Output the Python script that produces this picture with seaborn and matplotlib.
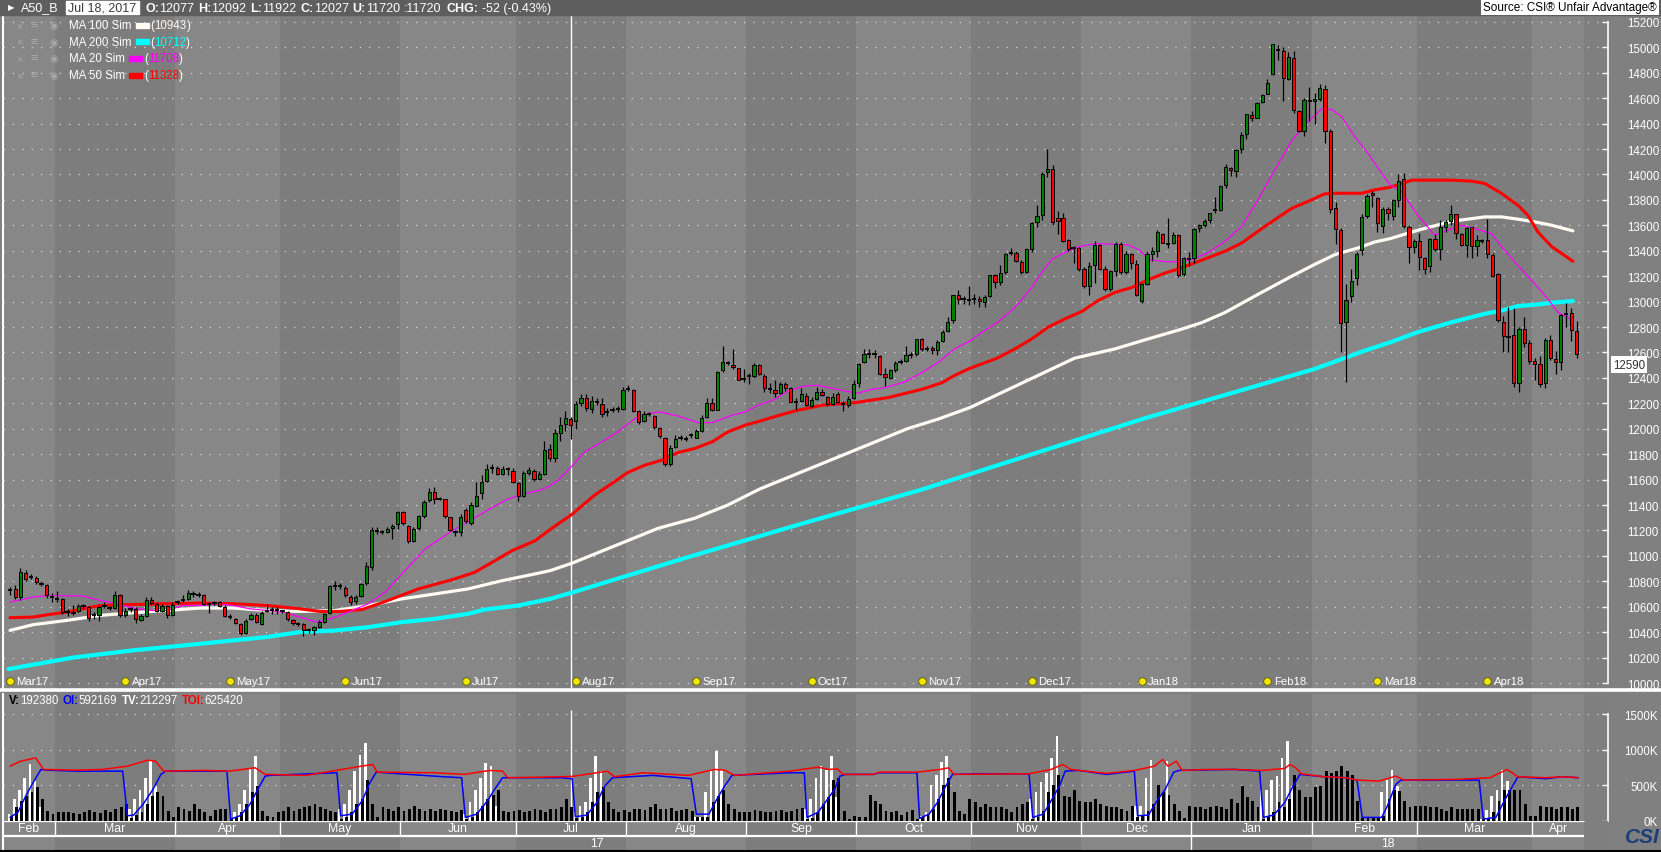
import numpy as np
import pandas as pd
import seaborn as sns
import matplotlib.pyplot as plt
from matplotlib.patches import Rectangle
from matplotlib.transforms import blended_transform_factory

sns.set_style("dark")
plt.rcParams["font.family"] = ["Liberation Sans", "DejaVu Sans"]

# daily bars of A50_B, one entry per trading day (Feb 2017 - Apr 2018)
opens = [
    10728, 10740, 10675, 10865, 10833, 10828, 10780, 10773, 10676, 10663,
    10663, 10558, 10550, 10570, 10605, 10597, 10532, 10532, 10602, 10590,
    10590, 10690, 10532, 10584, 10584, 10493, 10527, 10657, 10623, 10570,
    10602, 10537, 10636, 10655, 10663, 10702, 10694, 10689, 10623, 10631,
    10636, 10597, 10519, 10500, 10466, 10393, 10505, 10532, 10466, 10563,
    10571, 10571, 10563, 10558, 10492, 10466, 10461, 10414, 10414, 10440,
    10479, 10553, 10762, 10762, 10745, 10675, 10643, 10688, 10784, 10910,
    11197, 11184, 11190, 11216, 11247, 11349, 11237, 11119, 11216, 11310,
    11438, 11503, 11446, 11446, 11302, 11190, 11190, 11362, 11255, 11394,
    11493, 11590, 11694, 11694, 11647, 11686, 11668, 11577, 11472, 11655,
    11668, 11608, 11647, 11837, 11771, 11967, 12038, 12077, 12059, 12203,
    12245, 12153, 12211, 12195, 12132, 12145, 12158, 12155, 12310, 12307,
    12137, 12059, 12116, 12098, 12007, 11931, 11719, 11858, 11931, 11923,
    11949, 11928, 11983, 12093, 12203, 12150, 12464, 12516, 12503, 12477,
    12394, 12415, 12415, 12498, 12415, 12315, 12305, 12279, 12354, 12318,
    12213, 12219, 12258, 12179, 12232, 12292, 12253, 12198, 12271, 12192,
    12187, 12245, 12362, 12527, 12590, 12584, 12571, 12428, 12402, 12459,
    12527, 12532, 12579, 12584, 12707, 12629, 12637, 12618, 12689, 12767,
    12859, 13050, 13021, 13016, 13020, 13020, 12994, 13041, 13208, 13153,
    13229, 13386, 13386, 13315, 13229, 13412, 13627, 13681, 14021, 14044,
    13660, 13660, 13483, 13425, 13425, 13260, 13124, 13287, 13443, 13255,
    13097, 13242, 13456, 13229, 13373, 13294, 13007, 13137, 13378, 13394,
    13535, 13451, 13464, 13522, 13214, 13331, 13344, 13579, 13600, 13639,
    13717, 13722, 13913, 14048, 14030, 14197, 14317, 14471, 14447, 14570,
    14635, 14786, 14982, 14969, 14752, 14917, 14497, 14340, 14588, 14575,
    14596, 14674, 14340, 13735, 13566, 12843, 13044, 13187, 13404, 13675,
    13852, 13813, 13597, 13727, 13674, 13798, 13963, 13587, 13430, 13477,
    13343, 13280, 13495, 13411, 13587, 13635, 13685, 13535, 13443, 13587,
    13438, 13474, 13488, 13369, 13220, 12838, 12720, 12739, 12363, 12786,
    12676, 12531, 12510, 12358, 12699, 12549, 12523, 12904, 12912, 12767,
]
highs = [
    10755, 10770, 10904, 10890, 10855, 10845, 10800, 10780, 10710, 10720,
    10670, 10580, 10610, 10620, 10625, 10605, 10555, 10615, 10640, 10605,
    10725, 10700, 10590, 10600, 10595, 10540, 10680, 10680, 10640, 10620,
    10615, 10640, 10650, 10690, 10730, 10725, 10715, 10700, 10640, 10645,
    10645, 10610, 10540, 10510, 10470, 10500, 10550, 10550, 10565, 10620,
    10595, 10600, 10575, 10565, 10505, 10480, 10470, 10430, 10450, 10495,
    10550, 10770, 10800, 10790, 10760, 10690, 10690, 10790, 10950, 11230,
    11230, 11200, 11230, 11250, 11350, 11352, 11245, 11225, 11325, 11440,
    11530, 11540, 11460, 11450, 11305, 11200, 11330, 11380, 11420, 11580,
    11640, 11720, 11720, 11710, 11710, 11700, 11690, 11580, 11665, 11700,
    11680, 11665, 11900, 11880, 12000, 12090, 12140, 12092, 12220, 12270,
    12270, 12260, 12240, 12240, 12160, 12170, 12180, 12330, 12345, 12315,
    12150, 12140, 12130, 12110, 12010, 11935, 11870, 11950, 11950, 11945,
    11965, 12000, 12110, 12240, 12240, 12455, 12650, 12530, 12630, 12480,
    12470, 12440, 12520, 12510, 12430, 12360, 12380, 12370, 12365, 12325,
    12240, 12320, 12280, 12250, 12330, 12310, 12260, 12280, 12290, 12215,
    12260, 12380, 12520, 12630, 12630, 12620, 12580, 12480, 12470, 12530,
    12550, 12650, 12600, 12705, 12710, 12650, 12650, 12695, 12775, 12880,
    13050, 13090, 13040, 13120, 13060, 13040, 13050, 13210, 13215, 13290,
    13380, 13420, 13400, 13325, 13420, 13625, 13760, 14020, 14201, 14078,
    13710, 13700, 13490, 13440, 13430, 13270, 13310, 13480, 13450, 13280,
    13250, 13470, 13470, 13400, 13380, 13330, 13145, 13400, 13430, 13560,
    13540, 13660, 13545, 13530, 13350, 13390, 13580, 13610, 13650, 13700,
    13820, 13920, 14080, 14060, 14200, 14330, 14475, 14500, 14570, 14630,
    14750, 15026, 15020, 15000, 14960, 14970, 14510, 14600, 14690, 14640,
    14710, 14705, 14360, 13780, 13580, 13140, 13260, 13390, 13690, 13850,
    13870, 13820, 13740, 13740, 13810, 14000, 14010, 13600, 13490, 13540,
    13350, 13500, 13530, 13640, 13640, 13760, 13690, 13540, 13590, 13590,
    13520, 13490, 13650, 13380, 13225, 12890, 12960, 12950, 12800, 12880,
    12700, 12560, 12570, 12710, 12740, 12610, 12900, 12990, 12950, 12850,
]
lows = [
    10695, 10660, 10650, 10800, 10815, 10780, 10760, 10670, 10640, 10640,
    10545, 10530, 10535, 10560, 10585, 10490, 10500, 10490, 10590, 10575,
    10585, 10520, 10520, 10560, 10470, 10485, 10520, 10615, 10555, 10560,
    10515, 10530, 10620, 10640, 10655, 10680, 10680, 10615, 10550, 10615,
    10600, 10520, 10500, 10465, 10380, 10385, 10495, 10470, 10460, 10555,
    10545, 10540, 10550, 10490, 10460, 10450, 10370, 10390, 10375, 10430,
    10470, 10545, 10730, 10740, 10680, 10610, 10620, 10680, 10770, 10890,
    11170, 11170, 11180, 11130, 11215, 11240, 11100, 11110, 11205, 11300,
    11420, 11410, 11440, 11295, 11195, 11160, 11160, 11260, 11245, 11385,
    11450, 11585, 11650, 11640, 11640, 11640, 11570, 11430, 11460, 11640,
    11590, 11600, 11640, 11750, 11740, 11900, 11980, 11922, 12000, 12180,
    12140, 12120, 12185, 12090, 12100, 12130, 12130, 12150, 12295, 12130,
    12040, 12050, 12100, 12000, 11930, 11705, 11705, 11850, 11915, 11905,
    11930, 11925, 11978, 12085, 12140, 12145, 12450, 12500, 12470, 12380,
    12370, 12350, 12400, 12420, 12290, 12280, 12250, 12270, 12300, 12200,
    12150, 12210, 12180, 12170, 12225, 12255, 12180, 12190, 12200, 12140,
    12170, 12230, 12330, 12520, 12560, 12560, 12420, 12340, 12395, 12450,
    12510, 12525, 12560, 12575, 12615, 12610, 12590, 12580, 12680, 12760,
    12830, 12980, 12980, 12970, 12980, 12960, 12960, 13035, 13110, 13130,
    13220, 13370, 13315, 13220, 13225, 13390, 13590, 13640, 13980, 13600,
    13530, 13470, 13400, 13300, 13240, 13110, 13050, 13150, 13250, 13080,
    13080, 13200, 13220, 13220, 13260, 13040, 12990, 13130, 13320, 13350,
    13460, 13420, 13450, 13190, 13200, 13280, 13300, 13550, 13590, 13620,
    13700, 13715, 13890, 13990, 13980, 14170, 14280, 14420, 14440, 14560,
    14630, 14780, 14900, 14580, 14740, 14480, 14330, 14300, 14420, 14400,
    14580, 14250, 13700, 13450, 12600, 12370, 13000, 13130, 13370, 13660,
    13740, 13550, 13540, 13640, 13640, 13740, 13580, 13300, 13380, 13250,
    13220, 13230, 13400, 13330, 13550, 13600, 13490, 13440, 13350, 13340,
    13360, 13460, 13340, 13190, 12840, 12600, 12600, 12330, 12290, 12640,
    12510, 12380, 12330, 12320, 12540, 12430, 12460, 12800, 12690, 12560,
]
closes = [
    10728, 10680, 10870, 10815, 10833, 10794, 10780, 10690, 10676, 10663,
    10558, 10558, 10560, 10605, 10605, 10511, 10532, 10597, 10602, 10590,
    10690, 10532, 10570, 10584, 10505, 10524, 10657, 10628, 10570, 10605,
    10537, 10615, 10636, 10655, 10707, 10702, 10694, 10623, 10623, 10631,
    10605, 10527, 10519, 10474, 10393, 10485, 10537, 10479, 10550, 10563,
    10571, 10571, 10563, 10505, 10474, 10466, 10414, 10414, 10437, 10479,
    10540, 10762, 10762, 10762, 10693, 10636, 10675, 10779, 10923, 11203,
    11197, 11184, 11211, 11237, 11349, 11258, 11119, 11211, 11310, 11420,
    11503, 11451, 11446, 11310, 11203, 11190, 11302, 11273, 11399, 11472,
    11584, 11686, 11694, 11647, 11686, 11686, 11584, 11472, 11650, 11676,
    11608, 11642, 11835, 11771, 11967, 12033, 12085, 12027, 12197, 12245,
    12164, 12218, 12211, 12116, 12132, 12145, 12158, 12307, 12310, 12140,
    12054, 12116, 12116, 12015, 11944, 11719, 11852, 11923, 11931, 11923,
    11949, 11983, 12088, 12203, 12150, 12446, 12524, 12516, 12485, 12386,
    12394, 12415, 12498, 12433, 12323, 12315, 12279, 12354, 12318, 12213,
    12213, 12276, 12187, 12226, 12292, 12266, 12198, 12253, 12213, 12192,
    12232, 12355, 12506, 12590, 12590, 12584, 12433, 12410, 12459, 12519,
    12527, 12577, 12579, 12702, 12629, 12629, 12618, 12684, 12762, 12841,
    13050, 13021, 13021, 13016, 13020, 13002, 13033, 13208, 13156, 13224,
    13378, 13386, 13320, 13229, 13412, 13621, 13673, 14000, 14039, 13626,
    13634, 13477, 13417, 13425, 13260, 13124, 13281, 13443, 13260, 13098,
    13237, 13456, 13229, 13373, 13302, 13051, 13137, 13373, 13399, 13550,
    13464, 13451, 13522, 13211, 13344, 13331, 13571, 13600, 13636, 13696,
    13717, 13910, 14061, 14035, 14192, 14314, 14473, 14447, 14564, 14627,
    14721, 15026, 14982, 14760, 14927, 14504, 14340, 14588, 14575, 14596,
    14682, 14340, 13727, 13573, 12835, 13010, 13161, 13378, 13665, 13832,
    13839, 13618, 13727, 13696, 13798, 13947, 13595, 13430, 13477, 13351,
    13259, 13495, 13411, 13587, 13627, 13685, 13540, 13448, 13580, 13438,
    13482, 13474, 13377, 13201, 12852, 12728, 12720, 12358, 12786, 12676,
    12536, 12510, 12352, 12699, 12555, 12523, 12891, 12904, 12773, 12590,
]

# simple moving averages: (day, value)
ma20 = [(0.0, 10637), (4.4, 10676), (7.6, 10689), (13.9, 10684), (17.2, 10650), (20.4, 10624),
        (23.5, 10590), (26.7, 10571), (30.0, 10571), (33.0, 10610), (36.3, 10610), (39.5, 10624),
        (42.6, 10610), (45.8, 10584), (49.0, 10571), (52.1, 10558), (55.3, 10519), (58.6, 10479),
        (61.1, 10505), (63.0, 10532), (68.3, 10622), (71.6, 10714), (74.8, 10858), (79.2, 11054),
        (84.4, 11197), (87.4, 11268), (92.0, 11380), (95.0, 11446), (97.7, 11485), (100.8, 11511),
        (103.1, 11550), (104.6, 11596), (107.3, 11708), (109.7, 11818), (113.0, 11897), (116.0, 11975),
        (119.3, 12080), (121.8, 12119), (124.0, 12132), (127.5, 12101), (131.3, 12048), (134.0, 12048),
        (137.8, 12106), (140.3, 12132), (143.1, 12190), (146.0, 12232), (148.5, 12297), (151.7, 12336),
        (154.2, 12341), (156.9, 12318), (159.4, 12297), (161.8, 12279), (164.5, 12310), (167.0, 12323),
        (170.8, 12368), (174.0, 12441), (177.1, 12519), (180.3, 12629), (183.2, 12689), (185.5, 12758),
        (188.5, 12837), (191.8, 12954), (195.0, 13111), (196.9, 13229), (198.9, 13334), (201.3, 13386),
        (203.8, 13430), (207.1, 13456), (210.3, 13451), (213.4, 13446), (215.3, 13412), (217.6, 13328),
        (220.4, 13315), (222.9, 13312), (225.6, 13331), (228.6, 13383), (231.9, 13474), (235.1, 13592),
        (238.2, 13800), (241.4, 14035), (244.7, 14270), (247.7, 14413), (250.4, 14518), (252.3, 14510),
        (254.2, 14452), (256.7, 14296), (259.2, 14165), (261.8, 14009), (263.4, 13918), (265.6, 13863),
        (268.7, 13679), (271.9, 13522), (275.2, 13574), (277.1, 13600), (279.6, 13574), (282.8, 13535),
        (284.7, 13430), (287.8, 13285), (291.0, 13141), (293.5, 13022), (295.4, 12917), (297.7, 12865)]
ma50 = [(0.0, 10514), (4.4, 10519), (7.6, 10540), (10.9, 10558), (13.9, 10584), (17.2, 10610),
        (23.5, 10618), (30.0, 10624), (36.3, 10629), (42.6, 10624), (49.0, 10610), (55.3, 10584),
        (59.2, 10563), (63.0, 10563), (67.2, 10578), (71.6, 10641), (77.9, 10740), (84.4, 10813),
        (88.7, 10871), (92.0, 10949), (95.8, 11041), (100.2, 11119), (103.4, 11217), (107.3, 11328),
        (111.6, 11479), (114.9, 11570), (117.9, 11656), (121.2, 11714), (124.4, 11753), (127.5, 11813),
        (130.7, 11845), (134.0, 11897), (137.0, 11975), (140.3, 12028), (143.1, 12060), (146.0, 12096),
        (149.8, 12140), (155.0, 12185), (161.3, 12205), (167.6, 12245), (174.0, 12310), (177.9, 12362),
        (180.3, 12420), (183.2, 12475), (188.4, 12555), (191.8, 12628), (195.0, 12706), (198.1, 12798),
        (201.3, 12863), (204.6, 12923), (207.6, 13007), (210.9, 13072), (214.1, 13111), (217.2, 13171),
        (220.4, 13224), (223.3, 13260), (225.6, 13297), (228.6, 13344), (231.9, 13396), (235.1, 13461),
        (238.2, 13553), (241.4, 13644), (244.7, 13735), (247.7, 13787), (250.9, 13847), (252.9, 13852),
        (258.0, 13852), (260.5, 13879), (263.4, 13899), (267.6, 13955), (275.2, 13955), (279.0, 13947),
        (281.5, 13929), (284.7, 13850), (287.8, 13758), (289.7, 13679), (291.6, 13548), (294.3, 13430),
        (296.2, 13377), (298.3, 13317)]
ma100 = [(0.0, 10414), (4.4, 10459), (10.9, 10493), (17.2, 10532), (23.5, 10553), (30.0, 10571),
         (36.3, 10590), (42.6, 10590), (49.0, 10571), (55.3, 10563), (62.0, 10570), (68.3, 10609),
         (74.8, 10662), (81.1, 10701), (87.4, 10740), (93.9, 10805), (100.2, 10858), (103.1, 10884),
         (107.3, 10943), (123.7, 11217), (130.7, 11296), (137.0, 11400), (143.1, 11526), (171.4, 12002),
         (177.1, 12075), (183.2, 12166), (203.2, 12555), (210.9, 12628), (217.2, 12706), (223.3, 12779),
         (227.5, 12835), (231.9, 12914), (238.2, 13057), (244.7, 13201), (249.0, 13292), (252.9, 13370),
         (257.3, 13422), (260.5, 13469), (263.4, 13495), (268.7, 13561), (275.2, 13632), (281.5, 13666),
         (284.7, 13666), (287.8, 13648), (291.0, 13627), (294.3, 13600), (298.3, 13556)]
ma200 = [(-0.3, 10110), (12.0, 10200), (17.2, 10226), (23.5, 10257), (30.0, 10283), (36.3, 10309),
         (42.6, 10335), (49.0, 10362), (55.3, 10401), (62.0, 10413), (68.3, 10439), (74.8, 10479),
         (81.1, 10505), (87.4, 10544), (90.6, 10578), (96.9, 10609), (103.1, 10662), (107.3, 10712),
         (129.4, 10990), (151.7, 11260), (173.9, 11520), (195.2, 11801), (216.4, 12080), (249.0, 12470),
         (254.2, 12548), (258.6, 12614), (263.4, 12679), (268.7, 12760), (275.2, 12838), (281.5, 12904),
         (284.7, 12930), (287.8, 12965), (291.0, 12975), (294.3, 12991), (298.3, 13004)]

# volume panel, thousands of contracts
vol_black = [
    60, 200, 280, 350, 400, 470, 300, 140,
    100, 120, 130, 125, 110, 90, 120, 150, 130, 110, 150, 120, 170, 200, 230,
    40, 80, 120, 230, 350, 410, 350, 140,
    50, 190, 160, 140, 230, 160, 120, 70, 150, 160, 170,
    20, 50, 120, 230, 400, 490, 140, 60,
    50, 120, 140, 190, 140, 160, 190, 210, 230, 190, 160, 140, 120,
    20, 50, 120, 230, 300, 580, 230, 50,
    190, 160, 140, 190, 140, 160, 210, 160, 140, 160, 140, 160, 150, 140, 130, 150,
    20, 50, 120, 210, 300, 370, 440, 140,
    130, 140, 150, 130, 140, 160, 150, 130, 160, 170, 190, 300, 192,
    40, 50, 120, 260, 400, 470, 260, 160, 120,
    150, 130, 160, 170, 150, 200, 230, 160, 170, 180, 140, 150, 170, 140,
    50, 50, 50, 260, 350, 440, 230, 160, 130,
    120, 130, 150, 140, 130, 120, 140, 150, 130, 140, 160, 180,
    20, 40, 120, 230, 330, 580, 610, 140,
    20, 70, 50, 50, 360, 280, 230, 140, 120, 140, 80, 130, 150,
    20, 50, 80, 160, 300, 500, 610, 400, 140, 100,
    300, 260, 200, 230, 200, 190, 190, 160, 130, 190, 230, 260,
    20, 50, 140, 400, 500, 650, 350, 330, 440,
    280, 260, 260, 300, 230, 210, 190, 190, 160, 140, 210,
    50, 70, 140, 230, 510, 400, 370, 230, 140, 40,
    210, 190, 190, 160, 190, 210, 190, 160, 300, 250, 490, 330, 280, 200,
    30, 50, 120, 260, 190, 300, 650, 440, 330, 330, 470,
    490, 700, 680, 700, 770, 700, 650, 280,
    40, 40, 40, 40, 60, 300,
    440, 420, 280, 190, 210,
    210, 210, 200, 200, 160, 140, 190, 160, 160, 160, 170, 160,
    20, 30, 120, 280, 440, 440, 440, 440, 230, 70,
    70, 210, 190, 190, 160, 190, 190, 170, 190,
]
vol_roll = [(0, 90), (1, 300), (2, 440), (3, 600), (4, 800), (5, 560), (6, 200),
            (23, 160), (24, 300), (25, 440), (26, 600), (27, 840), (28, 490),
            (43, 120), (44, 230), (45, 440), (46, 750), (47, 910),
            (63, 160), (64, 230), (65, 440), (66, 700), (67, 930), (68, 1100),
            (87, 90), (88, 260), (89, 440), (90, 600), (91, 820), (92, 770), (93, 210),
            (108, 120), (109, 210), (110, 260), (111, 610), (112, 910), (113, 700),
            (131, 50), (132, 50), (133, 400), (134, 720), (135, 980), (136, 720),
            (152, 160), (153, 300), (154, 610), (155, 770), (156, 720), (157, 920), (158, 330),
            (174, 70), (175, 120), (176, 500), (177, 650), (178, 830), (179, 910),
            (195, 300), (196, 400), (197, 540), (198, 680), (199, 890), (200, 1200),
            (215, 210), (216, 210), (217, 610), (218, 860), (220, 360), (221, 840),
            (239, 440), (240, 440), (241, 580), (242, 630), (243, 890), (244, 1120), (245, 490),
            (262, 400), (263, 580), (264, 720), (265, 490),
            (281, 30), (282, 150), (283, 350), (284, 440), (285, 720), (286, 560)]
oi_line = [(0.0, 47), (1.5, 117), (3.0, 350), (4.4, 537), (5.9, 724), (6.9, 714), (12.7, 700),
           (21.5, 700), (22.4, 70), (23.6, 80), (25.4, 233), (27.3, 444), (28.8, 654), (29.7, 700),
           (41.4, 700), (42.1, 23), (43.9, 70), (45.8, 233), (47.3, 444), (48.7, 630), (49.7, 640),
           (62.4, 677), (63.1, 70), (65.3, 93), (67.2, 280), (68.7, 537), (69.9, 686), (76.0, 654),
           (82.8, 621), (86.2, 607), (86.9, 47), (89.1, 93), (91.1, 280), (92.5, 444), (94.0, 607),
           (105.2, 607), (107.3, 592), (107.9, 56), (110.1, 80), (112.0, 257), (113.5, 490),
           (115.0, 607), (122.7, 640), (130.0, 593), (131.0, 93), (133.4, 93), (134.9, 303),
           (136.4, 490), (137.8, 640), (148.9, 677), (151.6, 677), (152.1, 47), (154.2, 117),
           (155.8, 280), (157.4, 444), (158.4, 630), (159.5, 654), (164.8, 654), (165.9, 677),
           (173.1, 677), (173.6, 33), (175.4, 93), (177.0, 257), (178.6, 490), (179.9, 654),
           (185.0, 663), (194.5, 663), (195.2, 47), (197.2, 93), (198.7, 280), (200.3, 490),
           (201.4, 700), (204.0, 710), (209.3, 654), (214.6, 700), (215.2, 70), (217.3, 80),
           (218.9, 280), (220.5, 444), (222.1, 686), (223.1, 710), (233.7, 724), (238.5, 700),
           (239.2, 47), (241.2, 80), (243.3, 257), (244.9, 490), (246.2, 654), (250.7, 621),
           (255.0, 607), (257.1, 574), (258.1, 47), (261.8, 47), (262.9, 210), (264.5, 514),
           (265.5, 574), (276.2, 574), (280.4, 574), (281.2, 23), (283.6, 47), (285.2, 280),
           (286.8, 490), (287.8, 621), (293.1, 593), (296.3, 621), (299.3, 607)]
toi_line = [(0.0, 770), (2.0, 840), (4.9, 887), (6.4, 724), (12.7, 714), (17.6, 724), (22.4, 770),
            (26.3, 855), (27.8, 840), (29.3, 700), (37.0, 710), (41.9, 700), (46.8, 747), (48.7, 654),
            (56.5, 640), (61.4, 700), (66.3, 761), (69.2, 794), (70.1, 686), (80.9, 677), (86.7, 654),
            (91.6, 710), (94.0, 700), (95.0, 607), (105.2, 621), (107.3, 625), (112.0, 677),
            (114.0, 700), (115.4, 621), (120.8, 677), (129.5, 640), (134.4, 724), (136.4, 714),
            (138.3, 640), (148.9, 700), (154.2, 756), (156.3, 724), (157.9, 733), (159.0, 654),
            (164.8, 654), (165.9, 686), (173.3, 686), (177.5, 724), (179.1, 747), (180.2, 654),
            (194.5, 663), (198.7, 724), (200.9, 794), (202.5, 724), (204.0, 710), (209.3, 668),
            (214.6, 710), (218.4, 770), (220.0, 864), (221.0, 770), (222.6, 840), (223.7, 710),
            (228.4, 724), (233.7, 724), (239.0, 710), (243.3, 738), (244.3, 794), (245.4, 747),
            (246.5, 663), (250.7, 621), (255.0, 607), (257.1, 574), (261.3, 560), (264.5, 630),
            (266.1, 574), (276.2, 584), (282.5, 607), (285.7, 724), (287.8, 621), (293.1, 607),
            (296.3, 621), (299.3, 607)]

# calendar month boundaries (between trading days) and labels
month_edges = [8.5, 31.5, 51.5, 74.5, 96.5, 117.5, 140.5, 161.5, 183.5, 204.5,
               225.5, 248.5, 268.5, 290.5, 300.5]
month_names = ["Feb", "Mar", "Apr", "May", "Jun", "Jul", "Aug", "Sep", "Oct", "Nov",
               "Dec", "Jan", "Feb", "Mar", "Apr"]
year_names = ["17", "18"]
# contract roll days marked on the price panel
roll_days = [0, 22, 42, 64, 87, 108, 131, 153, 174, 195, 216, 240, 261, 282]
roll_labels = ["Mar17", "Apr17", "May17", "Jun17", "Jul17", "Aug17", "Sep17", "Oct17",
               "Nov17", "Dec17", "Jan18", "Feb18", "Mar18", "Apr18"]
cursor_day = 107
last_price = 12590

W, H = 1661, 853
XMIN, XMAX = -1.34, 305.0
LIGHT, DARK, TAIL = "#878787", "#7d7d7d", "#7f7f7f"

fig = plt.figure(figsize=(W / 100, H / 100), dpi=100, facecolor="#808080")


def box(x0, y0, x1, y1):
    return [x0 / W, 1 - y1 / H, (x1 - x0) / W, (y1 - y0) / H]


ax = fig.add_axes(box(3, 17, 1608, 689))
axv = fig.add_axes(box(3, 695, 1608, 822))
axd = fig.add_axes(box(3, 822, 1608, 852))
ov = fig.add_axes([0, 0, 1, 1], zorder=10)
ov.set_xlim(0, W)
ov.set_ylim(H, 0)
ov.axis("off")
ov.patch.set_alpha(0)

edges = [XMIN] + month_edges
for a in (ax, axv, axd):
    a.set_xlim(XMIN, XMAX)
    a.set_facecolor(TAIL)
    for k in range(len(edges) - 1):
        a.axvspan(edges[k], edges[k + 1], color=LIGHT if k % 2 == 0 else DARK, lw=0, zorder=0)
    for s in ("top", "bottom", "right", "left"):
        a.spines[s].set_visible(False)
    a.spines["left"].set_visible(True)
    a.spines["left"].set_color("white")
    a.spines["left"].set_linewidth(1.5)
    a.grid(False)
    a.tick_params(axis="x", bottom=False, labelbottom=False)

# ---- price panel ----
ax.set_ylim(9961, 15246)
for v in range(10000, 15201, 200):
    ax.axhline(v, color="#d8d8d8", lw=0.9, ls=(0, (1, 6.5)), zorder=1)
ax.axvline(cursor_day, color="white", lw=1, zorder=2)

for pts, col, lw in [(ma200, "#00ffff", 3.0), (ma100, "#fffaf2", 2.3),
                     (ma50, "#ff0000", 2.2), (ma20, "#ff00ff", 0.9)]:
    d = pd.DataFrame(pts, columns=["day", "ma"])
    sns.lineplot(data=d, x="day", y="ma", ax=ax, color=col, lw=lw, sort=False,
                 estimator=None, zorder=3)

o, h, l, c = (np.array(v, dtype=float) for v in (opens, highs, lows, closes))
days = np.arange(len(c))
up, dn, flat = c > o, c < o, c == o
ax.vlines(days, l, h, color="black", lw=0.9, zorder=4)
ax.bar(days[up], c[up] - o[up], bottom=o[up], width=0.62, color="#008000",
       edgecolor="black", lw=0.7, zorder=5)
ax.bar(days[dn], o[dn] - c[dn], bottom=c[dn], width=0.62, color="#ff0000",
       edgecolor="black", lw=0.7, zorder=5)
ax.hlines(c[flat], days[flat] - 0.42, days[flat] + 0.42, color="black", lw=1.3, zorder=5)

ax.set_xlabel("")
ax.set_ylabel("")
ax.yaxis.tick_right()
ax.set_yticks(range(10000, 15201, 200))
ax.tick_params(axis="y", colors="white", direction="in", length=4, width=1, pad=14, labelsize=8.3)
ax.spines["right"].set_visible(True)
ax.spines["right"].set_color("white")
ax.spines["right"].set_linewidth(1.2)
ax.spines["right"].set_bounds(10000, 15200)

tr = blended_transform_factory(ax.transData, ax.transAxes)
ax.scatter(roll_days, [0.0104] * len(roll_days), transform=tr, s=30, color="#f2e600",
           edgecolor="#5a5a00", lw=0.6, zorder=6, clip_on=False)
for d, lab in zip(roll_days, roll_labels):
    ax.text(d + 1.2, 0.0104, lab, transform=tr, color="white", fontsize=8.2,
            va="center", ha="left", zorder=6)

ax.text(1.003, last_price - 85, f"{last_price}",
        transform=blended_transform_factory(ax.transAxes, ax.transData),
        color="#303030", fontsize=8.3, va="center", ha="left", clip_on=False, zorder=7,
        bbox=dict(boxstyle="square,pad=0.18", fc="white", ec="none"))

# ---- volume panel ----
axv.set_ylim(-4, 1789)
for v in (500, 1000, 1500):
    axv.axhline(v, color="#d8d8d8", lw=0.9, ls=(0, (1, 6.5)), zorder=1)
axv.vlines(cursor_day, 0, 1560, color="white", lw=1, zorder=1.5)
rd, rv = zip(*vol_roll)
axv.bar(np.array(rd) - 0.2, rv, width=0.5, color="white", lw=0, zorder=2)
axv.bar(np.arange(len(vol_black)) + 0.2, vol_black, width=0.55, color="black", lw=0, zorder=2.1)
for pts, col in [(oi_line, "#0000ff"), (toi_line, "#ff0000")]:
    d = pd.DataFrame(pts, columns=["day", "k"])
    sns.lineplot(data=d, x="day", y="k", ax=axv, color=col, lw=1.1, sort=False,
                 estimator=None, zorder=3)
axv.set_xlabel("")
axv.set_ylabel("")
axv.yaxis.tick_right()
axv.set_yticks([0, 500, 1000, 1500])
axv.set_yticklabels(["0K", "500K", "1000K", "1500K"])
axv.tick_params(axis="y", colors="white", direction="in", length=4, width=1, pad=36, labelsize=8.3)
for lab in axv.get_yticklabels():
    lab.set_horizontalalignment("right")
axv.spines["right"].set_visible(True)
axv.spines["right"].set_color("white")
axv.spines["right"].set_linewidth(1.2)
axv.spines["right"].set_bounds(0, 1500)

# ---- date strip ----
axd.set_ylim(0, 30)
axd.set_yticks([])
axd.hlines(29.6, XMIN, month_edges[-1], color="white", lw=1)
axd.hlines(15.3, XMIN, month_edges[-1], color="white", lw=1.6)
axd.vlines(month_edges[:-1], 15.3, 30, color="white", lw=1)
axd.vlines(month_edges[10], 0, 15.3, color="white", lw=1)
for name, a, b in zip(month_names, edges[:-1], edges[1:]):
    axd.text((a + b) / 2, 22.6, name, color="white", fontsize=8.8, ha="center", va="center")
axd.text((XMIN + month_edges[10]) / 2, 7.6, year_names[0], color="white", fontsize=8.8,
         ha="center", va="center")
axd.text((month_edges[10] + month_edges[-1]) / 2, 7.6, year_names[1], color="white",
         fontsize=8.8, ha="center", va="center")

# ---- frame, header and legends (pixel overlay) ----
renderer = fig.canvas.get_renderer()


def seq_text(x, y, parts, size):
    for s, col, wt, gap in parts:
        t = ov.text(x, y, s, color=col, fontsize=size, fontweight=wt, va="center", ha="left")
        x += t.get_window_extent(renderer=renderer).width + gap
    return x


ov.hlines(690.5, 0, W, color="white", lw=2.6)
ov.hlines(852, 0, W, color="black", lw=1.5)
ov.add_patch(Rectangle((0, 0), W, 16, color="#5e5e5e"))
ov.text(8, 8.5, "▶", color="white", fontsize=6, va="center", ha="left")
ov.text(21, 8.5, "A50_B", color="white", fontsize=9, va="center", ha="left")
ov.add_patch(Rectangle((66, 1.5), 73, 13.5, color="white"))
ov.text(102.5, 8.5, "Jul 18, 2017", color="#3a3a3a", fontsize=9, va="center", ha="center")
W_, B_ = "white", "bold"
seq_text(145, 8.5, [("O:", W_, B_, 0), ("12077", W_, "normal", 4), ("H:", W_, B_, 0),
                    ("12092", W_, "normal", 4), ("L:", W_, B_, 0), ("11922", W_, "normal", 4),
                    ("C:", W_, B_, 0), ("12027", W_, "normal", 4), ("U:", W_, B_, 0),
                    ("11720", W_, "normal", 4), (":11720", W_, "normal", 5),
                    ("CHG:", W_, B_, 3), ("-52 (-0.43%)", W_, "normal", 0)], 9)
ov.text(1657, 8, "Source: CSI® Unfair Advantage®", color="black", fontsize=8.5,
        ha="right", va="center", bbox=dict(boxstyle="square,pad=0.2", fc="white", ec="none"))

legend_rows = [("MA 100 Sim", "#fffaf2", "10943"), ("MA 200 Sim", "#00ffff", "10712"),
               ("MA 20 Sim", "#ff00ff", "11708"), ("MA 50 Sim", "#ff0000", "11328")]
for (name, col, val), y in zip(legend_rows, [26, 42.7, 59.3, 76]):
    ov.text(19, y, "×", color="#a8a8a8", fontsize=8, ha="center", va="center")
    ov.text(34, y, "≡", color="#a8a8a8", fontsize=9, ha="center", va="center")
    ov.text(54, y, "◉", color="#a8a8a8", fontsize=7, ha="center", va="center")
    x = seq_text(69, y, [(name, "white", "normal", 4)], 8.3)
    ov.add_patch(Rectangle((x, y - 2.5), 13, 5, color=col))
    seq_text(x + 15, y, [("(", "white", "normal", 0), (val, col, "normal", 0),
                         (")", "white", "normal", 0)], 8.3)

seq_text(9, 701, [("V:", "black", B_, 0), ("192380", W_, "normal", 4),
                  ("OI:", "#0000ff", B_, 0), ("592169", W_, "normal", 5),
                  ("TV:", W_, B_, 0), ("212297", W_, "normal", 4),
                  ("TOI:", "#ff0000", B_, 0), ("625420", W_, "normal", 0)], 8.3)
ov.text(1642, 838, "CSI", color="#1c3f7a", fontsize=15, fontweight="bold",
        fontstyle="italic", ha="center", va="center")

fig.savefig("out.png", dpi=100, facecolor=fig.get_facecolor())
